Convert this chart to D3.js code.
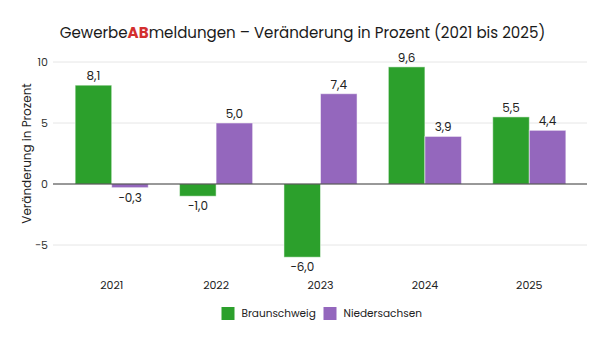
<!DOCTYPE html>
<html>
<head>
<meta charset="utf-8">
<style>
  body { margin: 0; background: #fff; }
  svg { display: block; font-family: "Poppins", "Open Sans", sans-serif; }
</style>
</head>
<body>
<svg id="chart" width="605" height="338"></svg>
<script src="https://d3js.org/d3.v7.min.js"></script>
<script>
  // data
  let years = ['2021', '2022', '2023', '2024', '2025']
  let series = ['Braunschweig', 'Niedersachsen']
  let braunschweig = [8.1, -1.0, -6.0, 9.6, 5.5]
  let niedersachsen = [-0.3, 5.0, 7.4, 3.9, 4.4]
  let yTicks = [-5, 0, 5, 10]
  let colors = ['#2ca02c', '#9467bd']

  let svg = d3.select('#chart')
  let width = 605, height = 338
  let margin = {left: 59.5, right: 23.5, top: 50, bottom: 70}

  let x = d3.scaleBand()
    .domain(years)
    .range([margin.left, width - margin.right])
    .paddingInner(0.3)
    .paddingOuter(0.15)

  let xSub = d3.scaleBand()
    .domain(series)
    .range([0, x.bandwidth()])

  let y = d3.scaleLinear()
    .domain([-5, 10])
    .range([245, 62])

  let gridX0 = 53, gridX1 = 587

  // gridlines
  svg.append('g')
    .selectAll('line')
    .data(yTicks.filter(d => d !== 0))
    .join('line')
    .attr('x1', gridX0).attr('x2', gridX1)
    .attr('y1', d => y(d)).attr('y2', d => y(d))
    .attr('stroke', '#e6e6e6')
    .attr('stroke-width', 1)

  // y tick labels
  svg.append('g')
    .selectAll('text')
    .data(yTicks)
    .join('text')
    .attr('x', 48)
    .attr('y', d => y(d))
    .attr('dy', '0.35em')
    .attr('text-anchor', 'end')
    .attr('font-size', 11)
    .attr('fill', '#333')
    .text(d => d < 0 ? '\u2212' + Math.abs(d) : d)

  // y axis title
  svg.append('text')
    .attr('transform', 'translate(31,' + y(2.5) + ') rotate(-90)')
    .attr('text-anchor', 'middle')
    .attr('font-size', 12)
    .attr('fill', '#222')
    .text('Veränderung in Prozent')

  let rows = []
  years.forEach((yr, i) => {
    rows.push({year: yr, s: series[0], v: braunschweig[i], c: colors[0]})
    rows.push({year: yr, s: series[1], v: niedersachsen[i], c: colors[1]})
  })

  // bars
  svg.append('g')
    .selectAll('rect')
    .data(rows)
    .join('rect')
    .attr('x', d => x(d.year) + xSub(d.s))
    .attr('width', xSub.bandwidth())
    .attr('y', d => y(Math.max(0, d.v)))
    .attr('height', d => Math.abs(y(d.v) - y(0)))
    .attr('fill', d => d.c)
    .attr('stroke', 'rgba(255,255,255,0.5)')
    .attr('stroke-width', 1)

  // value labels
  let fmt = v => v.toFixed(1).replace('.', ',').replace('-', '\u2212')
  svg.append('g')
    .selectAll('text')
    .data(rows)
    .join('text')
    .attr('x', d => x(d.year) + xSub(d.s) + xSub.bandwidth() / 2)
    .attr('y', d => d.v >= 0 ? y(d.v) - 5 : y(d.v) + 14)
    .attr('text-anchor', 'middle')
    .attr('font-size', 12)
    .attr('fill', '#222')
    .text(d => fmt(d.v))

  // zero line
  svg.append('line')
    .attr('x1', gridX0).attr('x2', gridX1)
    .attr('y1', y(0)).attr('y2', y(0))
    .attr('stroke', '#333')
    .attr('stroke-width', 1)

  // x labels
  svg.append('g')
    .selectAll('text')
    .data(years)
    .join('text')
    .attr('x', d => x(d) + x.bandwidth() / 2)
    .attr('y', 289)
    .attr('text-anchor', 'middle')
    .attr('font-size', 11)
    .attr('fill', '#222')
    .text(d => d)

  // legend
  let legend = svg.append('g')
  let legX = [221.5, 323.5]
  series.forEach((s, i) => {
    legend.append('rect')
      .attr('x', legX[i]).attr('y', 307)
      .attr('width', 13).attr('height', 13)
      .attr('fill', colors[i])
    legend.append('text')
      .attr('x', legX[i] + 20).attr('y', 313.5)
      .attr('dy', '0.35em')
      .attr('font-size', 10.5)
      .attr('fill', '#222')
      .text(s)
  })

  // title with red "AB"
  let title = svg.append('text')
    .attr('x', 302.5)
    .attr('y', 38)
    .attr('text-anchor', 'middle')
    .attr('font-size', 16)
    .attr('fill', '#1a1a1a')
  title.append('tspan').text('Gewerbe')
  title.append('tspan').attr('fill', '#d32f2f').attr('font-weight', 'bold').text('AB')
  title.append('tspan').text('meldungen \u2013 Veränderung in Prozent (2021 bis 2025)')

  // fit the title to the width it has in the picture
  let tw = title.node().getComputedTextLength()
  title.attr('font-size', 16 * 486 / tw)
</script>
</body>
</html>
